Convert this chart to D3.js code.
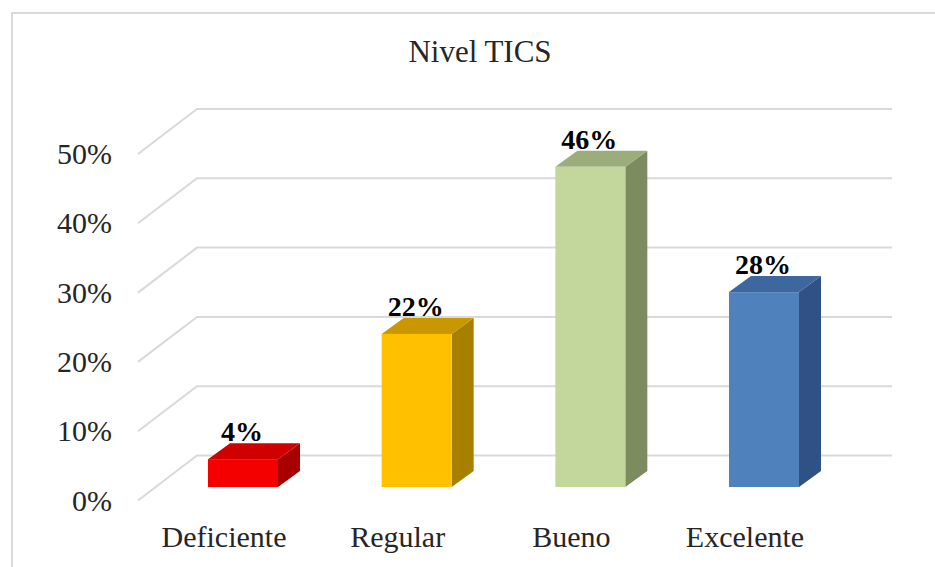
<!DOCTYPE html>
<html>
<head>
<meta charset="utf-8">
<script src="https://cdn.jsdelivr.net/npm/d3@7"></script>
<style>
  html, body { margin: 0; padding: 0; background: #fff; }
  svg { display: block; }
  text { font-family: "Liberation Serif", "Times New Roman", serif; fill: #262626; }
</style>
</head>
<body>
<svg id="chart" width="935" height="567"></svg>
<script>
const title = "Nivel TICS";
const categories = ["Deficiente", "Regular", "Bueno", "Excelente"];
const values = [4, 22, 46, 28];
const valueLabels = ["4%", "22%", "46%", "28%"];
const tickValues = [0, 10, 20, 30, 40, 50];
const tickLabels = ["0%", "10%", "20%", "30%", "40%", "50%"];
const frontColors = ["#f50000", "#ffc000", "#c3d69b", "#4f81bd"];
const topColors   = ["#d00000", "#c99700", "#9cad7c", "#3c689f"];
const sideColors  = ["#a80000", "#a88000", "#7d8c5f", "#2f5185"];

const svg = d3.select("#chart");

// frame
svg.append("rect").attr("x", 12).attr("y", 13).attr("width", 1000).attr("height", 1000)
  .attr("fill", "none").attr("stroke", "#d9d9d9").attr("stroke-width", 2);

// scales
const wallY = d3.scaleLinear().domain([0, 50]).range([455.5, 109]);
const barY = d3.scaleLinear().domain([0, 50]).range([487, 139]);
const xC = d3.scalePoint().domain(categories).range([243, 764]);
const barW = 70, dX = 22, dY = -16;      // bar depth projection
const floorDX = -59, floorDY = 45;       // floor front edge offset
const wallX0 = 197, wallX1 = 892;

// title
svg.append("text").attr("x", 480).attr("y", 62).attr("text-anchor", "middle")
  .style("font-size", "31px").text(title);

// gridlines (back wall + side diagonals)
const grid = svg.append("g").attr("stroke", "#d9d9d9").attr("stroke-width", 2).attr("fill", "none");
tickValues.forEach(v => {
  const y = wallY(v);
  grid.append("path").attr("d", `M${wallX0 + floorDX},${y + floorDY}L${wallX0},${y}L${wallX1},${y}`);
});

// y tick labels
svg.append("g").selectAll("text").data(tickValues).join("text")
  .attr("x", 112).attr("y", d => wallY(d) + floorDY + 10)
  .attr("text-anchor", "end").style("font-size", "30px")
  .text((d, i) => tickLabels[i]);

// bars
const bars = svg.append("g").selectAll("g").data(values).join("g");
bars.each(function(v, i) {
  const g = d3.select(this);
  const x0 = xC(categories[i]) - barW / 2, x1 = x0 + barW;
  const yb = barY(0), yt = barY(v);
  // side
  g.append("path").attr("fill", sideColors[i])
    .attr("d", `M${x1},${yb}L${x1 + dX},${yb + dY}L${x1 + dX},${yt + dY}L${x1},${yt}Z`);
  // top
  g.append("path").attr("fill", topColors[i])
    .attr("d", `M${x0},${yt}L${x0 + dX},${yt + dY}L${x1 + dX},${yt + dY}L${x1},${yt}Z`);
  // front
  g.append("rect").attr("x", x0).attr("y", yt).attr("width", barW).attr("height", yb - yt)
    .attr("fill", frontColors[i]);
  // value label
  g.append("text").attr("x", xC(categories[i]) - 1).attr("y", yt + dY - 2)
    .attr("text-anchor", "middle").style("font-size", "28px").style("font-weight", "bold")
    .style("fill", "#000").text(valueLabels[i]);
});

// category labels
svg.append("g").selectAll("text").data(categories).join("text")
  .attr("x", d => xC(d) - 19).attr("y", 547)
  .attr("text-anchor", "middle").style("font-size", "30px").text(d => d);
</script>
</body>
</html>
